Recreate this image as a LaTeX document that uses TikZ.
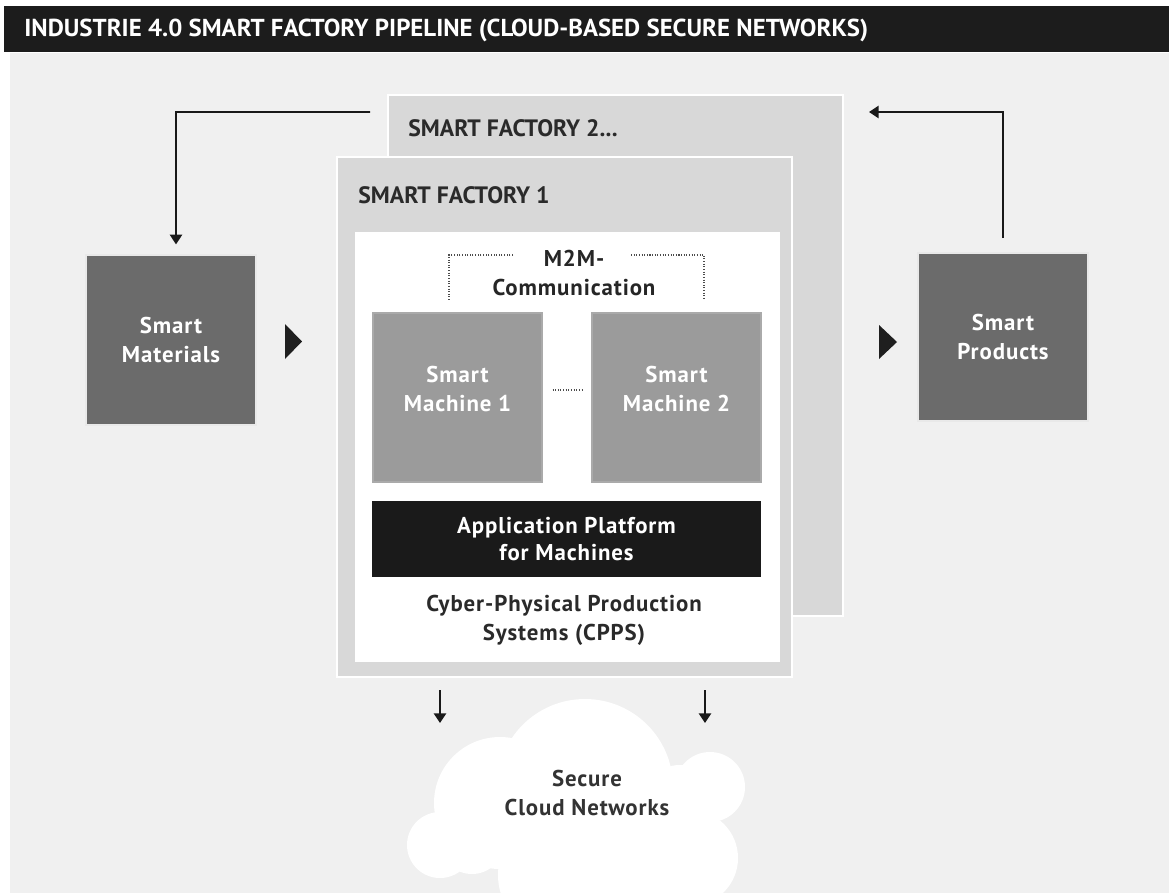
\documentclass[tikz,border=0pt]{standalone}
\usepackage{fontspec}
\setmainfont{PT Sans}
\newfontfamily\bodyfont{PT Sans}[LetterSpace=4]
\usetikzlibrary{arrows.meta}
\definecolor{bgc}{HTML}{F0F0F0}
\definecolor{barc}{HTML}{1C1C1C}
\definecolor{facc}{HTML}{D8D8D8}
\definecolor{darkc}{HTML}{6B6B6B}
\definecolor{machc}{HTML}{9B9B9B}
\definecolor{platc}{HTML}{1A1A1A}
\definecolor{txtc}{HTML}{2A2A2A}
\tikzset{
  px/.style={x=0.02cm,y=-0.02cm},
  facbox/.style={draw=white,line width=1.2pt,fill=facc,inner sep=0pt},
  darkbox/.style={draw=white!85!darkc,line width=0.8pt,fill=darkc,text=white,inner sep=0pt,
    font=\bodyfont\bfseries\fontsize{13}{16.5}\selectfont,align=center},
  machbox/.style={fill=machc,draw=machc!85!white,line width=0.6pt,inner sep=0pt},
  machtext/.style={text=white,inner sep=0pt,
    font=\bodyfont\bfseries\fontsize{13}{17}\selectfont,align=center},
  platbox/.style={fill=platc,text=white,inner sep=0pt,
    font=\bodyfont\bfseries\fontsize{13}{15}\selectfont,align=center},
  label/.style={text=txtc,font=\bodyfont\bfseries\fontsize{13}{16.5}\selectfont,align=center,inner sep=0pt},
  headl/.style={text=txtc,font=\bfseries\fontsize{13.5}{16}\selectfont,anchor=west,inner sep=0pt},
  arr/.style={draw=black!90,line width=1pt,-{Triangle[width=7pt,length=5.5pt]}},
  dotl/.style={draw=black!70,line width=1.3pt,dash pattern=on 0.6pt off 0.9pt},
}
\begin{document}
\begin{tikzpicture}[px]
\useasboundingbox (0,0) rectangle (1169,893);
\clip (0,0) rectangle (1169,893);
\fill[white] (0,0) rectangle (1169,893);
% background and title bar
\fill[bgc] (10,53) rectangle (1169,893);
\fill[barc] (4,6) rectangle (1169,52);
\node[anchor=west,inner sep=0pt,text=white] (title) at (24,30)
  {\resizebox{16.88cm}{0.35cm}{\bfseries INDUSTRIE 4.0 SMART FACTORY PIPELINE (CLOUD-BASED SECURE NETWORKS)}};
% factories
\node[facbox,minimum width=9.1cm,minimum height=10.42cm] (f2) at (615.5,355.5) {};
\node[headl] (f2l) at (408,128) {SMART FACTORY 2...};
\node[facbox,minimum width=9.1cm,minimum height=10.4cm] (f1) at (564.5,417) {};
\node[headl] (f1l) at (358,195) {SMART FACTORY 1};
\node[fill=white,inner sep=0pt,minimum width=8.5cm,minimum height=8.6cm] (cpps) at (567.5,447) {};
% machines
\node[machbox,minimum width=3.38cm,minimum height=3.38cm] (m1) at (457.5,397.5) {};
\node[machtext] (m1t) at (457.5,389) {Smart\\Machine 1};
\node[machbox,minimum width=3.38cm,minimum height=3.38cm] (m2) at (676.5,397.5) {};
\node[machtext] (m2t) at (676.5,389) {Smart\\Machine 2};
\draw[dotl] (m1.east) ++(10,-7.5) coordinate (d1) -- (583,390) coordinate (d2);
\node[platbox,minimum width=7.78cm,minimum height=1.52cm] (plat) at (566.5,539) {Application Platform\\for Machines};
\node[label] (cppsl) at (564,620) {Cyber-Physical Production\\Systems (CPPS)};
% M2M
\node[label,text=black!85] (m2m) at (574,273) {M2M-\\Communication};
\draw[dotl] (513,255) -- (449,255) -- (449,300);
\draw[dotl] (631,255) -- (704,255) -- (704,300);
% outer boxes
\node[darkbox,minimum width=3.4cm,minimum height=3.4cm] (mat) at (171,340) {Smart\\Materials};
\node[darkbox,minimum width=3.4cm,minimum height=3.36cm] (prod) at (1003,337) {Smart\\Products};
% flow triangles
\fill[black!88] (285,324) -- (302,341.5) -- (285,359) -- cycle;
\fill[black!88] (879,325) -- (897,342) -- (879,359) -- cycle;
% return arrows
\coordinate (a1) at (370,112);
\coordinate (a2) at (176,112);
\draw[arr] (a1) -- (a2) -- ([xshift=0.1cm,yshift=0.2cm]mat.north);
\coordinate (b1) at (1003,238);
\coordinate (b2) at (1003,112);
\coordinate (b3) at (869,112);
\draw[arr] (b1) -- (b2) -- (b3);
% cloud
\begin{scope}
\fill[white] (585,787) circle (88);
\fill[white] (500,803) circle (66);
\fill[white] (440,845) circle (33);
\fill[white] (472,842) circle (32);
\fill[white] (710,787) circle (35);
\fill[white] (690,858) circle (48);
\fill[white] (560,875) circle (62);
\fill[white] (640,870) circle (70);
\fill[white] (680,805) circle (40);
\end{scope}
\node[label,text=black!80] (cloud) at (587,793) {Secure\\Cloud Networks};
% down arrows
\coordinate (c1) at (440,690);
\coordinate (c2) at (440,723);
\coordinate (c3) at (705,690);
\coordinate (c4) at (705,723);
\draw[arr] (c1) -- (c2);
\draw[arr] (c3) -- (c4);
\end{tikzpicture}
\end{document}
